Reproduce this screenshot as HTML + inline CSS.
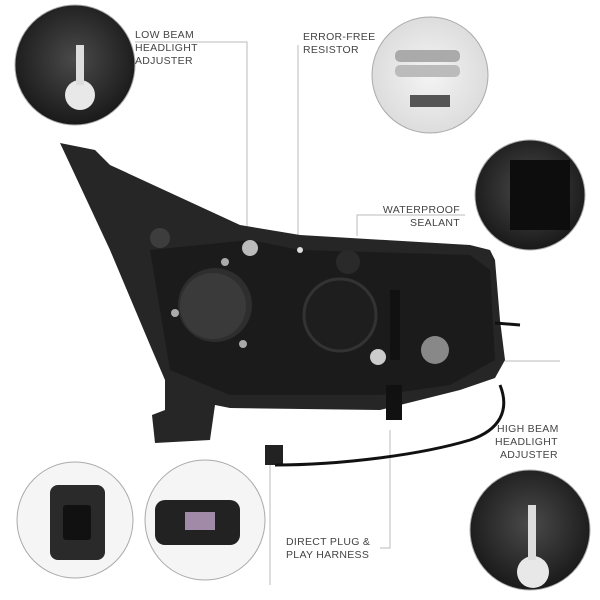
<!DOCTYPE html>
<html><head><meta charset="utf-8"><style>
body{margin:0;background:#fff;}
svg{display:block}
text{font-family:"Liberation Sans",sans-serif;font-size:10.5px;fill:#444;letter-spacing:0.3px}
</style></head><body>
<svg width="600" height="600" viewBox="0 0 600 600">
<defs>
<radialGradient id="dk" cx="50%" cy="45%" r="60%"><stop offset="0" stop-color="#4a4a4a"/><stop offset="1" stop-color="#151515"/></radialGradient>
<radialGradient id="lt" cx="50%" cy="50%" r="60%"><stop offset="0" stop-color="#f4f4f4"/><stop offset="1" stop-color="#d8d8d8"/></radialGradient>
</defs>
<!-- leader lines -->
<g stroke="#bbb" stroke-width="1" fill="none">
<polyline points="135,42 247,42 247,238"/>
<polyline points="298,45 298,250"/>
<polyline points="465,215 357,215 357,236"/>
<polyline points="385,361 560,361"/>
<polyline points="390,430 390,548 380,548"/>
<polyline points="270,462 270,585"/>
</g>
<!-- headlight body -->
<polygon fill="#262626" points="60,143 95,150 110,165 240,225 300,235 470,245 490,250 495,260 500,320 505,360 495,378 460,390 420,400 380,410 230,408 215,405 210,440 155,443 152,415 165,410 165,380 150,345 110,250 75,175"/>
<polygon fill="#1b1b1b" points="150,250 250,240 300,250 470,255 490,270 495,360 450,385 380,395 230,395 170,370"/>
<circle cx="215" cy="305" r="37" fill="#2e2e2e"/>
<circle cx="213" cy="306" r="33" fill="#3a3a3a"/>
<circle cx="340" cy="315" r="36" fill="#1e1e1e" stroke="#333" stroke-width="3"/>
<circle cx="160" cy="238" r="10" fill="#3d3d3d"/>
<circle cx="348" cy="262" r="12" fill="#2a2a2a"/>
<circle cx="250" cy="248" r="8" fill="#bbb"/>
<circle cx="300" cy="250" r="3" fill="#ddd"/>
<circle cx="378" cy="357" r="8" fill="#ccc"/>
<circle cx="435" cy="350" r="14" fill="#888"/>
<circle cx="225" cy="262" r="4" fill="#aaa"/><circle cx="175" cy="313" r="4" fill="#aaa"/><circle cx="243" cy="344" r="4" fill="#aaa"/>
<rect x="390" y="290" width="10" height="70" fill="#111"/>
<rect x="386" y="385" width="16" height="35" fill="#111"/>
<rect x="265" y="445" width="18" height="20" fill="#222"/>
<path d="M500,385 C510,410 500,430 470,440 C420,455 340,465 275,465" stroke="#111" stroke-width="3" fill="none"/>
<path d="M495,323 L520,325" stroke="#111" stroke-width="3"/>
<!-- circles -->
<circle cx="75" cy="65" r="60" fill="url(#dk)" stroke="#aaa"/>
<circle cx="80" cy="95" r="15" fill="#e8e8e8"/><rect x="76" y="45" width="8" height="40" fill="#ddd"/>
<circle cx="430" cy="75" r="58" fill="url(#lt)" stroke="#aaa"/>
<rect x="395" y="50" width="65" height="12" rx="5" fill="#aaa"/><rect x="395" y="65" width="65" height="12" rx="5" fill="#bbb"/>
<rect x="410" y="95" width="40" height="12" fill="#555"/>
<circle cx="530" cy="195" r="55" fill="url(#dk)" stroke="#aaa"/>
<rect x="510" y="160" width="60" height="70" fill="#0d0d0d"/>
<circle cx="530" cy="530" r="60" fill="url(#dk)" stroke="#aaa"/>
<circle cx="533" cy="572" r="16" fill="#e8e8e8"/><rect x="528" y="505" width="8" height="55" fill="#ddd"/>
<circle cx="75" cy="520" r="58" fill="#f5f5f5" stroke="#aaa"/>
<rect x="50" y="485" width="55" height="75" rx="8" fill="#2a2a2a"/><rect x="63" y="505" width="28" height="35" rx="3" fill="#111"/>
<circle cx="205" cy="520" r="60" fill="#f5f5f5" stroke="#aaa"/>
<rect x="155" y="500" width="85" height="45" rx="10" fill="#222"/><rect x="185" y="512" width="30" height="18" fill="#a08aa8"/>
<!-- labels -->
<text x="135" y="38">LOW BEAM</text><text x="135" y="51">HEADLIGHT</text><text x="135" y="64">ADJUSTER</text>
<text x="303" y="40">ERROR-FREE</text><text x="303" y="53">RESISTOR</text>
<text x="460" y="213" text-anchor="end">WATERPROOF</text><text x="460" y="226" text-anchor="end">SEALANT</text>
<text x="497" y="432">HIGH BEAM</text><text x="495" y="445">HEADLIGHT</text><text x="500" y="458">ADJUSTER</text>
<text x="286" y="545">DIRECT PLUG &amp;</text><text x="286" y="558">PLAY HARNESS</text>
</svg>
</body></html>
